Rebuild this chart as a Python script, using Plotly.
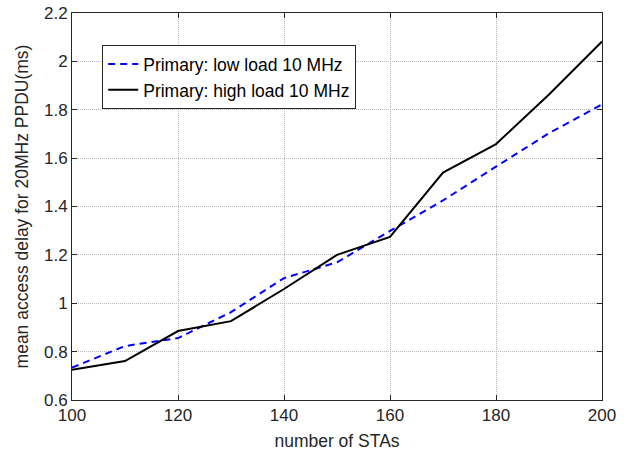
import plotly.graph_objects as go

stas = [100, 110, 120, 130, 140, 150, 160, 170, 180, 190, 200]
low_load = [0.734, 0.823, 0.856, 0.963, 1.104, 1.169, 1.299, 1.425, 1.565, 1.703, 1.822]
high_load = [0.725, 0.761, 0.885, 0.926, 1.059, 1.200, 1.274, 1.540, 1.658, 1.863, 2.082]
x_ticks = [100, 120, 140, 160, 180, 200]
y_ticks = [0.6, 0.8, 1.0, 1.2, 1.4, 1.6, 1.8, 2.0, 2.2]
y_tick_text = ["0.6", "0.8", "1", "1.2", "1.4", "1.6", "1.8", "2", "2.2"]

fig = go.Figure()
fig.add_trace(go.Scatter(x=stas, y=low_load, mode="lines",
                         name="Primary: low load 10 MHz",
                         line=dict(color="#0000ff", width=2, dash="7px,5px")))
fig.add_trace(go.Scatter(x=stas, y=high_load, mode="lines",
                         name="Primary: high load 10 MHz",
                         line=dict(color="#000000", width=2)))

font = "Liberation Sans, Arial, sans-serif"
axis_common = dict(showline=True, linecolor="#262626", linewidth=1, mirror="allticks",
                   ticks="inside", ticklen=5, tickcolor="#262626",
                   showgrid=True, gridcolor="#b8b8b8", griddash="1px,1px", gridwidth=1,
                   zeroline=False, automargin=False,
                   tickfont=dict(family=font, size=17, color="#262626"))

fig.update_layout(
    width=630, height=458,
    margin=dict(l=72, r=28, t=13, b=58),
    paper_bgcolor="white", plot_bgcolor="white",
    font=dict(family=font, color="#262626"),
    xaxis=dict(range=[100, 200], tickvals=x_ticks,
               title=dict(text="number of STAs", font=dict(family=font, size=17.5), standoff=10),
               **axis_common),
    yaxis=dict(range=[0.6, 2.2], tickvals=y_ticks, ticktext=y_tick_text,
               title=dict(text="mean access delay for 20MHz PPDU(ms)", font=dict(family=font, size=17.5), standoff=10),
               **axis_common),
    legend=dict(x=0.057, y=0.917, xanchor="left", yanchor="top",
                bgcolor="white", bordercolor="#262626", borderwidth=1,
                font=dict(family=font, size=17.5, color="#000000"),
                tracegroupgap=0, itemwidth=30),
    showlegend=True,
)

# remove the browser's default 8px body margin so the figure fills the window
fig.write_html("out.html",
               config={"displayModeBar": False},
               post_script="document.body.style.margin='0';document.body.style.overflow='hidden';")
